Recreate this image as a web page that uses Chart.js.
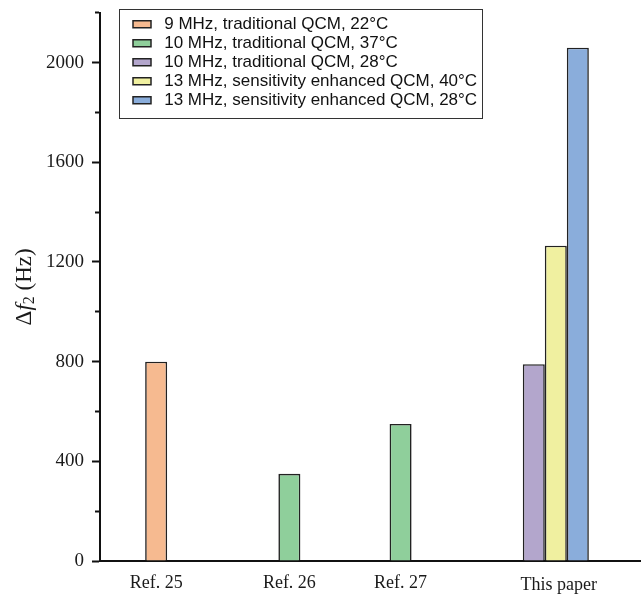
<!DOCTYPE html>
<html>
<head>
<meta charset="utf-8">
<script src="https://cdn.jsdelivr.net/npm/chart.js@4.4.1/dist/chart.umd.min.js"></script>
<style>
  html, body { margin: 0; padding: 0; background: #ffffff; }
  #wrap { position: relative; width: 641px; height: 595px; }
</style>
</head>
<body>
<div id="wrap"><canvas id="c"></canvas></div>
<script>
// ---- data ----
const categories = ['Ref. 25', 'Ref. 26', 'Ref. 27', 'This paper'];
const seriesLabels = [
  '9 MHz, traditional QCM, 22°C',
  '10 MHz, traditional QCM, 37°C',
  '10 MHz, traditional QCM, 28°C',
  '13 MHz, sensitivity enhanced QCM, 40°C',
  '13 MHz, sensitivity enhanced QCM, 28°C'
];
const s9MHz22C   = [800, null, null, null];
const s10MHz37C  = [null, 350, 550, null];
const s10MHz28C  = [null, null, null, 790];
const s13MHz40C  = [null, null, null, 1265];
const s13MHz28C  = [null, null, null, 2060];
const yTickValues = [0, 400, 800, 1200, 1600, 2000];
const yAxisTitle = ['Δ', 'f', '2', ' (Hz)'];

const seriesValues = [s9MHz22C, s10MHz37C, s10MHz28C, s13MHz40C, s13MHz28C];
const seriesColors = ['#F6BA90', '#8FCF9B', '#B3A6CC', '#F0F0A0', '#8AADDB'];

const datasets = seriesValues.map((vals, k) => ({
  label: seriesLabels[k],
  data: vals.map((v, i) => ({ x: i, y: v })),
  backgroundColor: seriesColors[k],
  borderColor: '#222',
  borderWidth: 1.6,
  borderSkipped: 'bottom',
  categoryPercentage: 0.99,
  barPercentage: 1.0
}));

const SERIF = '"Liberation Serif", "Times New Roman", serif';
const SANS = '"Liberation Sans", Arial, sans-serif';

// legend offset & border
const legendBoxPlugin = {
  id: 'legendBox',
  afterLayout(chart) {
    const lg = chart.legend, ca = chart.chartArea;
    if (!lg) return;
    lg.left = ca.left + 31;
    lg.top = ca.top + 1;
  },
  afterDraw(chart) {
    const lg = chart.legend;
    if (!lg || !lg.legendHitBoxes || !lg.legendHitBoxes.length) return;
    const hb = lg.legendHitBoxes;
    let x0 = Infinity, y0 = Infinity, x1 = -Infinity, y1 = -Infinity;
    hb.forEach(h => {
      x0 = Math.min(x0, h.left); y0 = Math.min(y0, h.top);
      x1 = Math.max(x1, h.left + h.width); y1 = Math.max(y1, h.top + h.height);
    });
    const ctx = chart.ctx;
    ctx.save();
    ctx.strokeStyle = '#333';
    ctx.lineWidth = 1;
    ctx.strokeRect(Math.round(x0 - 14) + 0.5, Math.round(y0 - 6.5) + 0.5, Math.round(x1 - x0 + 19), Math.round(y1 - y0 + 16));
    ctx.restore();
  }
};

// category labels centred under the visible bars of each group
const catLabelPlugin = {
  id: 'catLabels',
  afterDraw(chart) {
    const ctx = chart.ctx, ca = chart.chartArea;
    ctx.save();
    ctx.font = '18px ' + SERIF;
    ctx.fillStyle = '#1a1a1a';
    ctx.textAlign = 'center';
    ctx.textBaseline = 'alphabetic';
    categories.forEach((cat, i) => {
      let lo = Infinity, hi = -Infinity;
      chart.data.datasets.forEach((ds, k) => {
        const v = ds.data[i] && ds.data[i].y;
        if (v === null || v === undefined) return;
        const el = chart.getDatasetMeta(k).data[i];
        if (!el) return;
        lo = Math.min(lo, el.x - el.width / 2);
        hi = Math.max(hi, el.x + el.width / 2);
      });
      if (!isFinite(lo)) return;
      ctx.fillText(cat, (lo + hi) / 2 + (i === categories.length - 1 ? 3 : 0), ca.bottom + (i === categories.length - 1 ? 29 : 26.5));
    });
    ctx.restore();
  }
};

// y-axis title with italic f and subscript 2
const yTitlePlugin = {
  id: 'yTitle',
  afterDraw(chart) {
    const ctx = chart.ctx, ca = chart.chartArea;
    const parts = [
      { t: yAxisTitle[0], f: '23px ' + SERIF, dy: 0 },
      { t: yAxisTitle[1], f: 'italic 23px ' + SERIF, dy: 0 },
      { t: yAxisTitle[2], f: '16px ' + SERIF, dy: 5 },
      { t: yAxisTitle[3], f: '23px ' + SERIF, dy: 0 }
    ];
    ctx.save();
    let total = 0;
    parts.forEach(p => { ctx.font = p.f; p.w = ctx.measureText(p.t).width; total += p.w; });
    ctx.translate(25, (ca.top + ca.bottom) / 2);
    ctx.rotate(-Math.PI / 2);
    ctx.fillStyle = '#1a1a1a';
    ctx.textBaseline = 'middle';
    ctx.textAlign = 'left';
    let x = -total / 2;
    parts.forEach(p => { ctx.font = p.f; ctx.fillText(p.t, x, p.dy); x += p.w; });
    ctx.restore();
  }
};

new Chart(document.getElementById('c'), {
  type: 'bar',
  data: { datasets },
  options: {
    responsive: true,
    maintainAspectRatio: false,
    animation: false,
    layout: { padding: { left: 38, top: 12, right: 0, bottom: 34 } },
    scales: {
      x: {
        type: 'linear',
        offset: false,
        min: -0.901,
        max: 3.964,
        afterBuildTicks: (s) => { s.ticks = categories.map((_, i) => ({ value: i })); },
        ticks: { display: false },
        grid: { display: false, drawTicks: false },
        border: { display: true, color: '#111', width: 2 }
      },
      y: {
        min: 0,
        max: 2200,
        ticks: {
          stepSize: 200,
          padding: 8,
          color: '#1a1a1a',
          font: { family: SERIF, size: 19, lineHeight: 0.5 },
          callback: (v) => (yTickValues.includes(v) ? String(v) : '')
        },
        grid: {
          display: true,
          drawOnChartArea: false,
          drawTicks: true,
          tickLength: 8,
          tickWidth: 2,
          tickColor: '#111',
          tickBorderDash: (c) => (c.tick && yTickValues.includes(c.tick.value) ? [] : [4, 3]),
          tickBorderDashOffset: (c) => (c.tick && yTickValues.includes(c.tick.value) ? 0 : 4)
        },
        border: { display: true, color: '#111', width: 2 }
      }
    },
    plugins: {
      tooltip: { enabled: false },
      legend: {
        display: true,
        position: 'chartArea',
        align: 'start',
        labels: {
          boxWidth: 18,
          boxHeight: 7,
          padding: 2,
          color: '#111',
          font: { family: SANS, size: 17 },
          generateLabels: (chart) =>
            Chart.defaults.plugins.legend.labels.generateLabels(chart).map(l => Object.assign(l, { text: ' ' + l.text, lineWidth: 1.5 }))
        }
      }
    }
  },
  plugins: [legendBoxPlugin, catLabelPlugin, yTitlePlugin]
});
</script>
</body>
</html>
